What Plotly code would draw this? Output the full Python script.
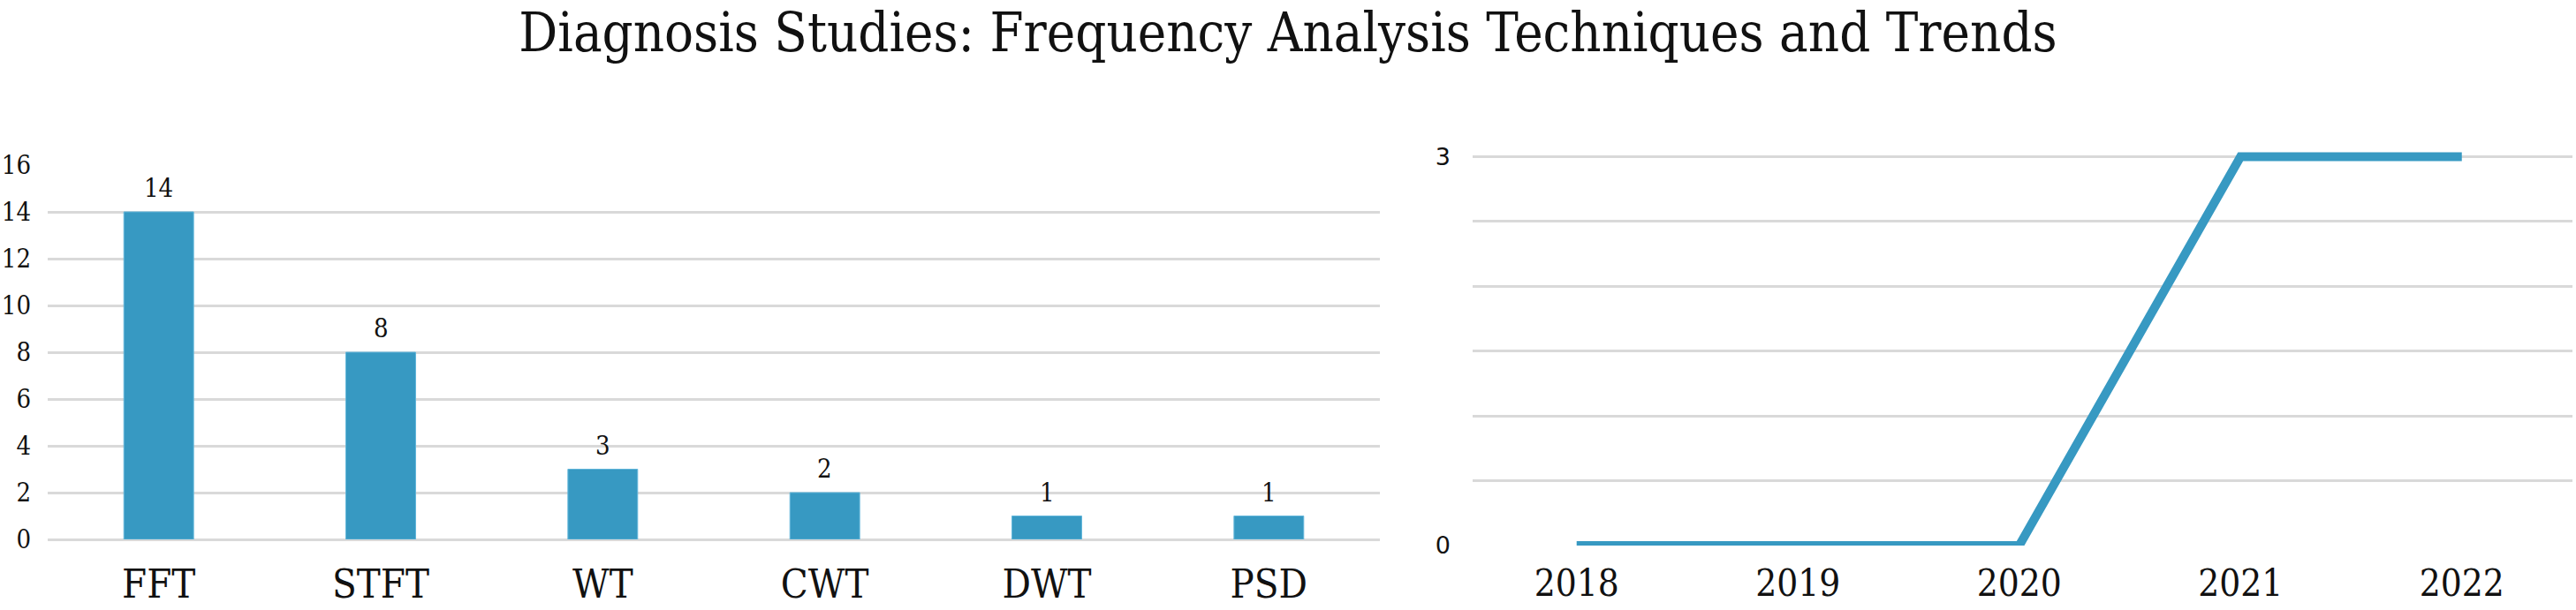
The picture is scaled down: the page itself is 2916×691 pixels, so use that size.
import plotly.graph_objects as go

# ---- data ----
techniques = ["FFT", "STFT", "WT", "CWT", "DWT", "PSD"]
technique_counts = [14, 8, 3, 2, 1, 1]

years = [2018, 2019, 2020, 2021, 2022]
year_counts = [0, 0, 0, 3, 3]

right_y_tickvals = [0, 0.5, 1, 1.5, 2, 2.5, 3, 3.5]
right_y_ticktext = ["0", "", "", "", "", "", "3", ""]

W, H = 2916, 691
BLUE = "#3799C2"
GRID = "#d9d9d9"
SERIF = "DejaVu Serif Condensed, DejaVu Serif, Liberation Serif, serif"
SANS = "DejaVu Sans, Liberation Sans, sans-serif"

fig = go.Figure()

fig.add_trace(go.Bar(
    x=techniques, y=technique_counts,
    marker=dict(color=BLUE, line=dict(color="#62b6da", width=1)),
    xaxis="x", yaxis="y", showlegend=False,
))

fig.add_trace(go.Scatter(
    x=years, y=year_counts, mode="lines",
    line=dict(color=BLUE, width=10),
    xaxis="x2", yaxis="y2", showlegend=False,
))

annotations = []
for cat, val in zip(techniques, technique_counts):
    annotations.append(dict(
        x=cat, y=val, xref="x", yref="y", text=str(val),
        showarrow=False, yanchor="bottom", yshift=8,
        font=dict(family=SERIF, size=29, color="#111111"),
    ))

def py(px):
    return 1 - px / H

fig.update_layout(
    template="none",
    width=W, height=H,
    margin=dict(l=0, r=0, t=0, b=0, pad=0),
    paper_bgcolor="white", plot_bgcolor="white",
    bargap=0.686,
    title=dict(
        text="Diagnosis Studies: Frequency Analysis Techniques and Trends",
        x=0.5, xanchor="center", y=py(37), yanchor="middle",
        xref="paper", yref="container",
        font=dict(family=SERIF, size=61, color="#111111"),
    ),
    xaxis=dict(
        domain=[54 / W, 1562 / W], anchor="y", automargin=False,
        showgrid=False, zeroline=False, showline=False,
        ticks="", ticklabelstandoff=20,
        tickfont=dict(family=SERIF, size=45, color="#111111"),
    ),
    yaxis=dict(
        domain=[py(611), py(187)], anchor="x", automargin=False,
        range=[0, 16], dtick=2,
        showgrid=True, gridcolor=GRID, gridwidth=2.5,
        zeroline=True, zerolinecolor=GRID, zerolinewidth=2.5,
        showline=False, ticks="", ticklabelstandoff=18,
        tickfont=dict(family=SERIF, size=29, color="#111111"),
    ),
    xaxis2=dict(
        domain=[1667 / W, 2912 / W], anchor="y2", automargin=False,
        range=[2017.53, 2022.5],
        tickvals=years, ticktext=[str(y) for y in years],
        showgrid=False, zeroline=False, showline=False,
        ticks="", ticklabelstandoff=14,
        tickfont=dict(family=SERIF, size=42, color="#111111"),
    ),
    yaxis2=dict(
        domain=[py(618), py(104)], anchor="x2", automargin=False,
        range=[0, 3.5],
        tickvals=right_y_tickvals, ticktext=right_y_ticktext,
        showgrid=True, gridcolor=GRID, gridwidth=2.5,
        zeroline=False, showline=False, ticks="", ticklabelstandoff=24,
        tickfont=dict(family=SANS, size=27, color="#111111"),
    ),
    annotations=annotations,
)

fig.write_html(
    "out.html",
    config={"displayModeBar": False},
    post_script="document.body.style.margin='0';document.body.style.overflow='hidden';",
)
